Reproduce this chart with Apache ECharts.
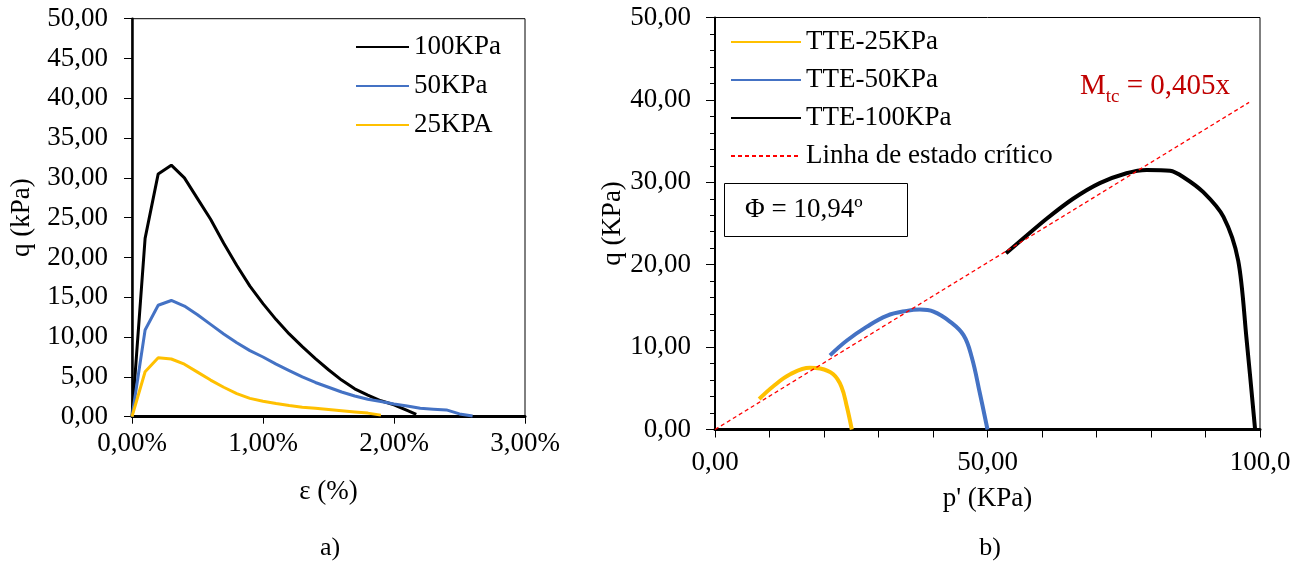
<!DOCTYPE html>
<html>
<head>
<meta charset="utf-8">
<script src="https://cdn.jsdelivr.net/npm/echarts@6/dist/echarts.min.js"></script>
<style>html,body{margin:0;padding:0;background:#fff}#c{width:1300px;height:564px}</style>
</head>
<body>
<div id="c"></div>
<script>
// ---- Chart a): q vs strain ----
const strain100 = [0,0.1,0.2,0.3,0.4,0.5,0.6,0.7,0.8,0.9,1.0,1.1,1.2,1.3,1.4,1.5,1.6,1.7,1.8,1.9,2.0,2.1,2.17];
const q100 = [0,22.4,30.5,31.6,30.0,27.4,24.8,21.8,19.0,16.4,14.2,12.2,10.4,8.8,7.3,5.9,4.6,3.5,2.7,2.0,1.5,0.8,0.3];
const strain50 = [0,0.1,0.2,0.3,0.4,0.5,0.6,0.7,0.8,0.9,1.0,1.1,1.2,1.3,1.4,1.5,1.6,1.7,1.8,1.9,2.0,2.1,2.2,2.3,2.4,2.5,2.6];
const q50 = [0,10.9,14.0,14.6,13.9,12.8,11.6,10.4,9.3,8.3,7.5,6.6,5.8,5.0,4.3,3.7,3.1,2.6,2.2,1.9,1.6,1.35,1.05,0.95,0.85,0.35,0.1];
const strain25 = [0,0.1,0.2,0.3,0.4,0.5,0.6,0.7,0.8,0.9,1.0,1.1,1.2,1.3,1.4,1.5,1.6,1.7,1.8,1.9];
const q25 = [0,5.65,7.4,7.25,6.6,5.6,4.6,3.7,2.9,2.3,1.95,1.65,1.4,1.2,1.05,0.9,0.75,0.6,0.45,0.2];
const namesA = ['100KPa','50KPa','25KPA'];

// ---- Chart b): q vs p' ----
const pTTE25 = [8.1,10.7,13.8,17.4,19.3,21.7,23.2,24.2,25.1];
const qTTE25 = [3.7,5.25,6.7,7.5,7.4,6.7,5.2,2.75,0];
const pTTE50 = [21.1,24.2,27.8,31.5,35.2,37.6,40.1,43.1,45.6,47.1,48.6,50.0];
const qTTE50 = [9.0,10.8,12.45,13.8,14.4,14.55,14.3,13.1,11.45,8.8,4.4,0];
const pTTE100 = [53.4,56.6,60.9,65.7,70.6,75.5,79.2,83.5,85.9,89.6,93.3,96.0,97.5,99.1];
const qTTE100 = [21.4,23.2,25.6,28.0,29.9,31.1,31.5,31.4,30.65,28.8,25.8,20.5,11.2,0];
const pCrit = [0,98];
const qCrit = [0,39.7];
const namesB = ['TTE-25KPa','TTE-50KPa','TTE-100KPa','Linha de estado crítico'];
const xLabelsB = {0:'0,00',50:'50,00',100:'100,0'};

const FONT = 'Liberation Serif';
const FS = 27;
const pairs = (xs, ys) => xs.map((x,i)=>[x,ys[i]]);
const comma2 = v => v.toFixed(2).replace('.',',');

const chart = echarts.init(document.getElementById('c'));
chart.setOption({
  animation:false,
  textStyle:{fontFamily:FONT},
  grid:[
    {left:132,top:18.7,width:393,height:398,show:true,borderColor:'#000',borderWidth:1,containLabel:false},
    {left:715,top:17.5,width:545,height:412,show:true,borderColor:'#000',borderWidth:1,containLabel:false}
  ],
  legend:[
    {orient:'vertical',left:350,top:27,itemWidth:53,itemHeight:14,itemGap:9,data:namesA,
     itemStyle:{opacity:0},
     textStyle:{fontFamily:FONT,fontSize:27,color:'#000',lineHeight:30}},
    {orient:'vertical',left:725,top:22,itemWidth:70,itemHeight:14,itemGap:8,data:namesB,
     itemStyle:{opacity:0},
     textStyle:{fontFamily:FONT,fontSize:27,color:'#000',lineHeight:30}}
  ],
  xAxis:[
    {type:'value',gridIndex:0,min:0,max:3,interval:1,
     name:'ε (%)',nameLocation:'middle',nameGap:62,nameTextStyle:{fontFamily:FONT,fontSize:FS,color:'#000'},
     axisLine:{lineStyle:{color:'#000',width:3}},axisTick:{show:true,length:7,lineStyle:{color:'#000',width:1}},
     splitLine:{show:false},
     axisLabel:{fontFamily:FONT,fontSize:FS,color:'#000',margin:14,formatter:v=>comma2(v)+'%'}},
    {type:'value',gridIndex:1,min:0,max:100,interval:10,
     name:"p' (KPa)",nameLocation:'middle',nameGap:56,nameTextStyle:{fontFamily:FONT,fontSize:FS,color:'#000'},
     axisLine:{lineStyle:{color:'#000',width:3}},axisTick:{show:true,length:8,lineStyle:{color:'#000',width:1}},
     splitLine:{show:false},
     axisLabel:{fontFamily:FONT,fontSize:FS,color:'#000',margin:20,showMaxLabel:true,formatter:v=>xLabelsB[v]!==undefined?xLabelsB[v]:''}}
  ],
  yAxis:[
    {type:'value',gridIndex:0,min:0,max:50,interval:5,
     name:'q (kPa)',nameLocation:'middle',nameGap:97,nameRotate:90,nameTextStyle:{fontFamily:FONT,fontSize:FS,color:'#000'},
     axisLine:{lineStyle:{color:'#000',width:2.5}},axisTick:{show:true,length:8,lineStyle:{color:'#000',width:1}},
     splitLine:{show:false},
     axisLabel:{fontFamily:FONT,fontSize:FS,color:'#000',margin:24,formatter:comma2}},
    {type:'value',gridIndex:1,min:0,max:50,interval:10,
     name:'q (KPa)',nameLocation:'middle',nameGap:87,nameRotate:90,nameTextStyle:{fontFamily:FONT,fontSize:FS,color:'#000'},
     axisLine:{lineStyle:{color:'#000',width:2}},axisTick:{show:true,length:9,lineStyle:{color:'#000',width:1}},
     minorTick:{show:true,splitNumber:5,length:5,lineStyle:{color:'#000',width:1}},
     splitLine:{show:false},minorSplitLine:{show:false},
     axisLabel:{fontFamily:FONT,fontSize:FS,color:'#000',margin:24,formatter:comma2}}
  ],
  series:[
    {name:namesA[0],type:'line',xAxisIndex:0,yAxisIndex:0,data:pairs(strain100,q100),symbol:'none',color:'#000000',lineStyle:{width:3,color:'#000000'}},
    {name:namesA[1],type:'line',xAxisIndex:0,yAxisIndex:0,data:pairs(strain50,q50),symbol:'none',color:'#4472C4',lineStyle:{width:3,color:'#4472C4'}},
    {name:namesA[2],type:'line',xAxisIndex:0,yAxisIndex:0,data:pairs(strain25,q25),symbol:'none',color:'#FFC000',lineStyle:{width:3,color:'#FFC000'}},
    {name:namesB[0],type:'line',xAxisIndex:1,yAxisIndex:1,data:pairs(pTTE25,qTTE25),symbol:'none',smooth:0.4,color:'#FFC000',lineStyle:{width:4,color:'#FFC000'}},
    {name:namesB[1],type:'line',xAxisIndex:1,yAxisIndex:1,data:pairs(pTTE50,qTTE50),symbol:'none',smooth:0.4,color:'#4472C4',lineStyle:{width:4,color:'#4472C4'}},
    {name:namesB[2],type:'line',xAxisIndex:1,yAxisIndex:1,data:pairs(pTTE100,qTTE100),symbol:'none',smooth:0.3,color:'#000000',lineStyle:{width:4,color:'#000000'}},
    {name:namesB[3],type:'line',xAxisIndex:1,yAxisIndex:1,data:pairs(pCrit,qCrit),symbol:'none',color:'#FF0000',lineStyle:{width:1.3,color:'#FF0000',type:[4,3]}}
  ],
  graphic:[
    {type:'rect',shape:{x:724.5,y:183.5,width:183,height:53},style:{fill:'#fff',stroke:'#000',lineWidth:1}},
    {type:'text',x:745,y:210,style:{text:'Φ = 10,94º',font:'27px "Liberation Serif"',fill:'#000',textVerticalAlign:'middle'}},
    {type:'text',x:1080,y:86,style:{text:'{m|M}{s|tc}{m| = 0,405x}',fill:'#C00000',textVerticalAlign:'middle',
      rich:{m:{fontFamily:FONT,fontSize:29,fill:'#C00000',color:'#C00000',verticalAlign:'bottom'},
            s:{fontFamily:FONT,fontSize:19,fill:'#C00000',color:'#C00000',verticalAlign:'bottom',padding:[0,0,-6,0]}}}},
    {type:'text',x:330,y:548,style:{text:'a)',font:'26px "Liberation Serif"',fill:'#000',textAlign:'center',textVerticalAlign:'middle'}},
    {type:'text',x:990,y:548,style:{text:'b)',font:'26px "Liberation Serif"',fill:'#000',textAlign:'center',textVerticalAlign:'middle'}}
  ]
});
</script>
</body>
</html>
